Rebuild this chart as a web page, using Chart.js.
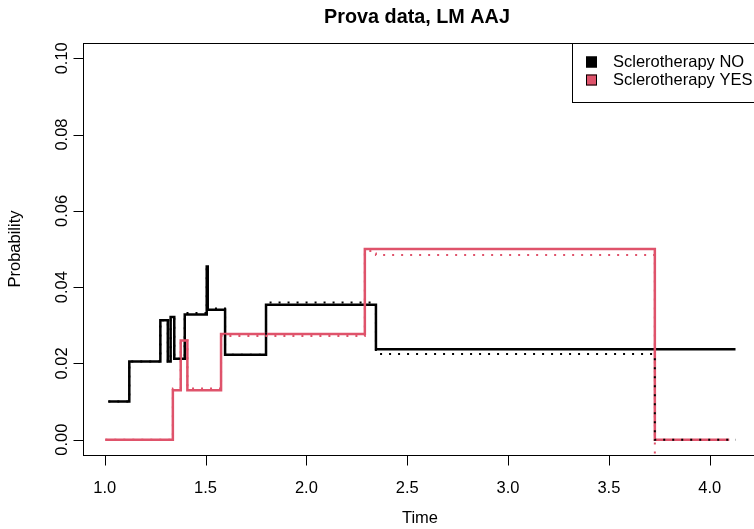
<!DOCTYPE html>
<html>
<head>
<meta charset="utf-8">
<title>Prova data, LM AAJ</title>
<script src="https://cdn.jsdelivr.net/npm/chart.js@4/dist/chart.umd.min.js"></script>
<style>
  html, body { margin: 0; padding: 0; background: #fff; overflow: hidden; }
  #wrap { width: 760px; height: 529px; }
</style>
</head>
<body>
<div id="wrap"><canvas id="c" width="760" height="529"></canvas></div>
<script>
// Axis ticks
const xTicks = [1.0, 1.5, 2.0, 2.5, 3.0, 3.5, 4.0];
const yTicks = [0.00, 0.02, 0.04, 0.06, 0.08, 0.10];

// Group names
const groups = ['Sclerotherapy NO', 'Sclerotherapy YES'];

// Sclerotherapy NO: step changes (time, probability), solid estimate
const noSolidTime = [1.018, 1.122, 1.276, 1.313, 1.327, 1.345, 1.397, 1.506, 1.511, 1.597, 1.800, 2.345, 4.128];
const noSolidProb = [0.0100, 0.0205, 0.0313, 0.0205, 0.0322, 0.0212, 0.0328, 0.0454, 0.0341, 0.0223, 0.0354, 0.0237, 0.0237];

// Sclerotherapy NO: dotted estimate
const noDottedTime = [1.018, 1.122, 1.276, 1.313, 1.327, 1.345, 1.397, 1.506, 1.511, 1.597, 1.800, 2.345, 3.728, 4.128];
const noDottedProb = [0.0100, 0.0205, 0.0313, 0.0205, 0.0322, 0.0212, 0.0332, 0.0454, 0.0344, 0.0223, 0.0360, 0.0225, 0.0000, 0.0000];

// Sclerotherapy YES: solid estimate
const yesSolidTime = [1.003, 1.338, 1.377, 1.410, 1.577, 2.290, 3.728, 4.097];
const yesSolidProb = [0.0000, 0.0130, 0.0260, 0.0130, 0.0277, 0.0500, 0.0000, 0.0000];

// Sclerotherapy YES: dotted estimate (falls below the axis range at the end)
const yesDottedTime = [1.003, 1.338, 1.377, 1.410, 1.577, 2.290, 2.330, 2.345, 3.728, 4.097];
const yesDottedProb = [0.0000, 0.0134, 0.0260, 0.0134, 0.0272, 0.0495, 0.0488, 0.0484, -0.0200, -0.0200];

const colNo = '#000000';
const colYes = '#DF536B';
const FONT = '"Liberation Sans", Arial, Helvetica, sans-serif';
const BASE = 16.5;

const toPoints = (t, p) => t.map((v, i) => ({ x: v, y: p[i] }));

// R-style frame, axes, labels, title and legend
const rFrame = {
  id: 'rFrame',
  afterDraw(chart) {
    const { ctx, chartArea: a, scales: { x, y } } = chart;
    ctx.save();
    ctx.strokeStyle = '#000';
    ctx.fillStyle = '#000';
    ctx.lineWidth = 1;

    // plot box
    ctx.strokeRect(Math.round(a.left) - 0.5, Math.round(a.top) + 0.5,
                   Math.round(a.right - a.left) + 1, Math.round(a.bottom - a.top));

    const tickLen = 10;
    ctx.font = BASE + 'px ' + FONT;

    // x axis
    const xb = Math.round(a.bottom) + 0.5;
    const x0 = x.getPixelForValue(xTicks[0]);
    const x1 = x.getPixelForValue(xTicks[xTicks.length - 1]);
    ctx.beginPath();
    ctx.moveTo(x0, xb); ctx.lineTo(x1, xb);
    xTicks.forEach(v => {
      const px = Math.round(x.getPixelForValue(v)) + 0.5;
      ctx.moveTo(px, xb); ctx.lineTo(px, xb + tickLen);
    });
    ctx.stroke();
    ctx.textAlign = 'center';
    ctx.textBaseline = 'middle';
    xTicks.forEach(v => {
      ctx.fillText(v.toFixed(1), x.getPixelForValue(v), 488);
    });
    ctx.fillText('Time', (a.left + a.right) / 2, 518);

    // y axis
    const yl = Math.round(a.left) - 0.5;
    const y0 = y.getPixelForValue(yTicks[0]);
    const y1 = y.getPixelForValue(yTicks[yTicks.length - 1]);
    ctx.beginPath();
    ctx.moveTo(yl, y0); ctx.lineTo(yl, y1);
    yTicks.forEach(v => {
      const py = Math.round(y.getPixelForValue(v)) + 0.5;
      ctx.moveTo(yl, py); ctx.lineTo(yl - tickLen, py);
    });
    ctx.stroke();
    yTicks.forEach(v => {
      ctx.save();
      ctx.translate(62, y.getPixelForValue(v));
      ctx.rotate(-Math.PI / 2);
      ctx.fillText(v.toFixed(2), 0, 0);
      ctx.restore();
    });
    ctx.save();
    ctx.translate(15, (a.top + a.bottom) / 2);
    ctx.rotate(-Math.PI / 2);
    ctx.fillText('Probability', 0, 0);
    ctx.restore();

    // title
    ctx.font = 'bold ' + (BASE * 1.2) + 'px ' + FONT;
    ctx.fillText('Prova data, LM AAJ', (a.left + a.right) / 2 - 3, 18);

    // legend (top right, inside the plot)
    const lx = 572, ly = Math.round(a.top) + 0.5, lh = 59;
    ctx.fillStyle = '#fff';
    ctx.fillRect(lx, ly, a.right - lx + 2, lh);
    ctx.strokeRect(lx + 0.5, ly, a.right - lx + 2, lh);
    ctx.font = BASE + 'px ' + FONT;
    ctx.textAlign = 'left';
    const rows = [[groups[0], colNo, 62], [groups[1], colYes, 80]];
    rows.forEach(([label, col, cy]) => {
      ctx.fillStyle = col;
      ctx.fillRect(586, cy - 5.5, 11, 11);
      ctx.strokeStyle = '#000';
      ctx.strokeRect(586.5, cy - 5, 10, 10);
      ctx.fillStyle = '#000';
      ctx.fillText(label, 613, cy);
    });
    ctx.restore();
  }
};

// 'before': hold the previous value until the next time, then jump
const solid = { stepped: 'before', borderWidth: 2.5, pointRadius: 0, fill: false, tension: 0 };
const dotted = { stepped: 'before', borderWidth: 2, borderDash: [2, 7], pointRadius: 0, fill: false, tension: 0 };

new Chart(document.getElementById('c'), {
  type: 'line',
  data: {
    datasets: [
      { label: groups[0], data: toPoints(noSolidTime, noSolidProb), borderColor: colNo, order: 4, ...solid },
      { label: groups[1], data: toPoints(yesSolidTime, yesSolidProb), borderColor: colYes, order: 3, ...solid },
      { label: groups[0] + ' (dotted)', data: toPoints(noDottedTime, noDottedProb), borderColor: colNo, order: 2, ...dotted },
      { label: groups[1] + ' (dotted)', data: toPoints(yesDottedTime, yesDottedProb), borderColor: colYes, order: 1, ...dotted }
    ]
  },
  options: {
    responsive: false,
    animation: false,
    devicePixelRatio: 1,
    layout: { padding: { left: 84, top: 43, right: 4, bottom: 74 } },
    plugins: { legend: { display: false }, title: { display: false }, tooltip: { enabled: false } },
    scales: {
      x: { type: 'linear', display: false, min: 0.8974, max: 4.2296 },
      y: { type: 'linear', display: false, min: -0.004, max: 0.104 }
    }
  },
  plugins: [rFrame]
});
</script>
</body>
</html>
